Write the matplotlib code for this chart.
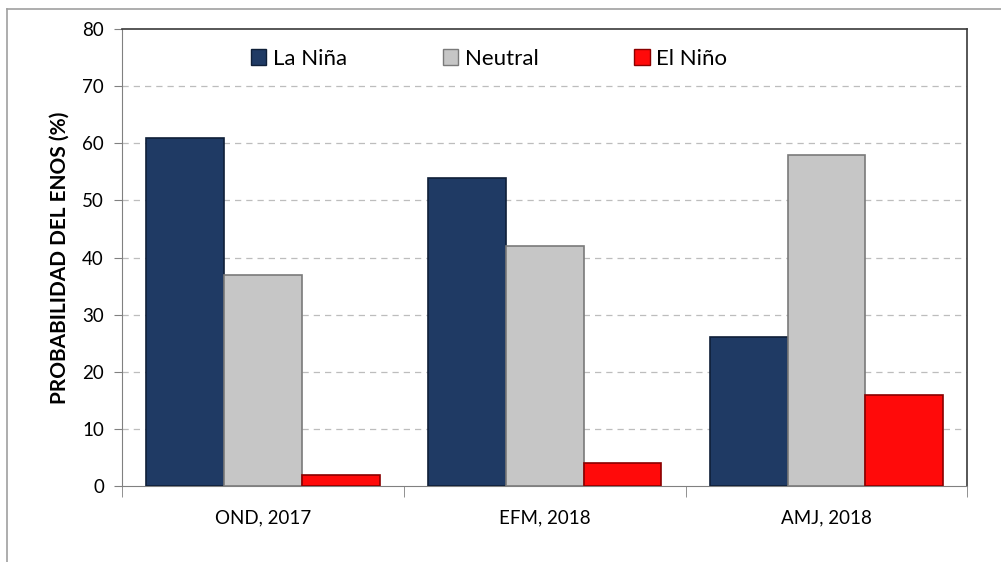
import numpy as np
import matplotlib.pyplot as plt
from matplotlib.patches import Rectangle
from matplotlib.lines import Line2D

# datos
categorias = ['OND, 2017', 'EFM, 2018', 'AMJ, 2018']
la_nina = [61, 54, 26]
neutral = [37, 42, 58]
el_nino = [2, 4, 16]
series = ['La Niña', 'Neutral', 'El Niño']
yticks = [0, 10, 20, 30, 40, 50, 60, 70, 80]

colores = ['#1f3a64', '#c6c6c6', '#ff0a0a']
bordes = ['#0f1f38', '#7a7a7a', '#8a0000']

plt.rcParams['font.family'] = ['Lato', 'DejaVu Sans']

fig = plt.figure(figsize=(10.01, 5.62), dpi=100)
ax = fig.add_axes([0.1219, 0.1352, 0.8446, 0.8132])

x = np.arange(len(categorias))
w = 0.276
for i, vals in enumerate([la_nina, neutral, el_nino]):
    ax.bar(x + (i - 1) * w, vals, width=w, color=colores[i],
           edgecolor=bordes[i], linewidth=1.2, zorder=3, label=series[i])

ax.set_xlim(-0.5, 2.5)
ax.set_ylim(0, 80)
ax.set_yticks(yticks)
ax.tick_params(axis='y', labelsize=13.5, length=6, color='#808080', pad=7)
ax.set_xticks(x)
ax.set_xticklabels(categorias)
ax.tick_params(axis='x', labelsize=13.5, length=0, pad=17)
ax.set_xticks([-0.5, 0.5, 1.5, 2.5], minor=True)
ax.tick_params(axis='x', which='minor', length=8, color='#808080')

for yv in yticks[1:-1]:
    ax.axhline(yv, color='#bdbdbd', lw=0.9, ls=(0, (5, 4)), zorder=1)

for s in ['left', 'bottom']:
    ax.spines[s].set_color('#808080')
for s in ['top', 'right']:
    ax.spines[s].set_color('#3a3a3a')
    ax.spines[s].set_linewidth(1.2)

ax.set_ylabel('PROBABILIDAD DEL ENOS (%)', fontsize=15, fontweight='bold', labelpad=9)

handles = [Rectangle((0, 0), 1, 1, facecolor=colores[i], edgecolor=bordes[i]) for i in range(3)]
ax.legend(handles, series, loc='upper center', bbox_to_anchor=(0.434, 1.0), ncol=3,
          frameon=False, fontsize=16, columnspacing=4.3, handlelength=0.7,
          handleheight=0.7, handletextpad=0.3)

# marco de la figura
fig.add_artist(Line2D([0.007, 0.007], [0.0, 0.984], color='#a0a0a0', lw=1.2))
fig.add_artist(Line2D([0.007, 1.0], [0.984, 0.984], color='#a0a0a0', lw=1.2))

fig.savefig('out.png', dpi=100)
